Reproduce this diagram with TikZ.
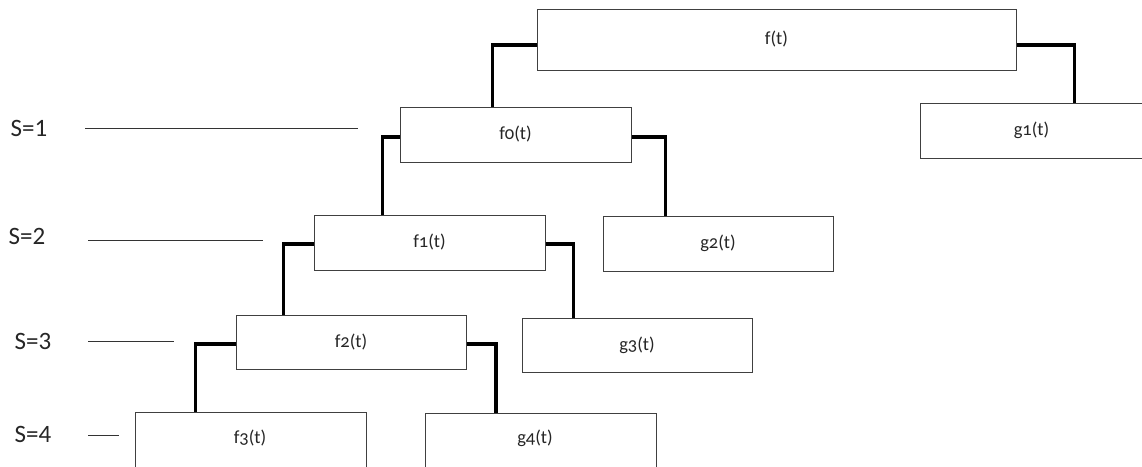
\documentclass[tikz,border=0pt]{standalone}
\usepackage{fontspec}
\setmainfont{Carlito}
\newfontfamily\osf{Carlito}[Numbers=OldStyle]
\begin{document}
\begin{tikzpicture}[x=1pt,y=-1pt,
  box/.style={draw=black!75, line width=1pt, rectangle, inner sep=0pt, text=black!85,
    font=\fontsize{18.5}{21}\selectfont},
  conn/.style={line width=3.4pt, black},
  lvl/.style={line width=1pt, black!80},
  slab/.style={font=\fontsize{25}{28}\selectfont, text=black!85, inner sep=0pt}]
\useasboundingbox (0,0) rectangle (1142,466);
\clip (0,0) rectangle (1142,466);
\newcommand{\sd}[1]{{\osf #1}}
% boxes
\node[box, minimum width=479pt, minimum height=61pt] (F)  at (776.5,39.5) {f(t)};
\node[box, minimum width=231pt, minimum height=55pt] (F0) at (515.5,134.5) {f\sd{0}(t)};
\node[box, minimum width=223pt, minimum height=55pt] (G1) at (1031.5,130.5) {g\sd{1}(t)};
\node[box, minimum width=231pt, minimum height=55pt] (F1) at (429.5,242.5) {f\sd{1}(t)};
\node[box, minimum width=230pt, minimum height=55pt] (G2) at (718,243.5) {g\sd{2}(t)};
\node[box, minimum width=230pt, minimum height=54pt] (F2) at (351,342) {f\sd{2}(t)};
\node[box, minimum width=230pt, minimum height=54pt] (G3) at (637,345) {g\sd{3}(t)};
\node[box, minimum width=231pt, minimum height=56pt, text depth=0pt] (F3) at (250.5,440) {};
\node[box, minimum width=231pt, minimum height=56pt] (G4) at (540.5,441) {};
\node[font=\fontsize{18.5}{21}\selectfont, text=black!85] (F3t) at (250,438) {f\sd{3}(t)};
\node[font=\fontsize{18.5}{21}\selectfont, text=black!85] (G4t) at (535,438) {g\sd{4}(t)};
% connectors
\draw[conn] ([yshift=-5.5pt]F.west) -| ([xshift=93pt]F0.north west);
\draw[conn] ([yshift=-5.5pt]F.east) -| ([xshift=155pt]G1.north west);
\draw[conn] ([yshift=-2.5pt]F0.west) -| ([xshift=69pt]F1.north west);
\draw[conn] ([yshift=-2.5pt]F0.east) -| ([xshift=63pt]G2.north west);
\draw[conn] ([yshift=-1.5pt]F1.west) -| ([xshift=48pt]F2.north west);
\draw[conn] ([yshift=-1.5pt]F1.east) -| ([xshift=52pt]G3.north west);
\draw[conn] ([yshift=-2pt]F2.west) -| ([xshift=61pt]F3.north west);
\draw[conn] ([yshift=-2pt]F2.east) -| ([xshift=71.5pt]G4.north west);
% levels
\node[slab] (S1) at (29,128) {S=1};
\node[slab] (S2) at (27,236) {S=2};
\node[slab] (S3) at (33,341) {S=3};
\node[slab] (S4) at (33,434) {S=4};
\coordinate (L1a) at (85,128);  \coordinate (L1b) at (358,128);
\coordinate (L2a) at (88,240);  \coordinate (L2b) at (263,240);
\coordinate (L3a) at (88,341);  \coordinate (L3b) at (174,341);
\coordinate (L4a) at (88,435);  \coordinate (L4b) at (119,435);
\draw[lvl] (L1a) -- (L1b);
\draw[lvl] (L2a) -- (L2b);
\draw[lvl] (L3a) -- (L3b);
\draw[lvl] (L4a) -- (L4b);
\end{tikzpicture}
\end{document}
